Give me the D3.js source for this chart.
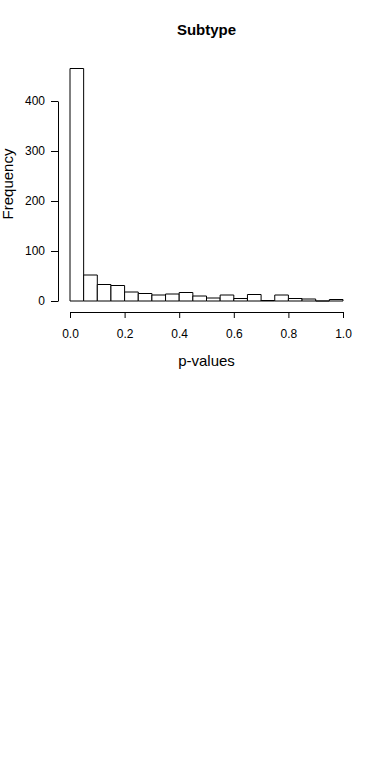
<!DOCTYPE html>
<html>
<head>
<meta charset="utf-8">
<script src="https://cdn.jsdelivr.net/npm/d3@7"></script>
<style>
  html, body { margin: 0; padding: 0; background: #fff; }
  svg { display: block; font-family: "Liberation Sans", Arial, Helvetica, sans-serif; }
</style>
</head>
<body>
<svg id="chart" width="384" height="768"></svg>
<script>
// histogram of p-values, 20 bins of width 0.05
const binStarts = [0.00, 0.05, 0.10, 0.15, 0.20, 0.25, 0.30, 0.35, 0.40, 0.45,
                   0.50, 0.55, 0.60, 0.65, 0.70, 0.75, 0.80, 0.85, 0.90, 0.95];
const binEnds   = [0.05, 0.10, 0.15, 0.20, 0.25, 0.30, 0.35, 0.40, 0.45, 0.50,
                   0.55, 0.60, 0.65, 0.70, 0.75, 0.80, 0.85, 0.90, 0.95, 1.00];
const counts    = [465, 52, 33, 31, 18, 15, 12, 14, 17, 10,
                   6, 12, 5, 13, 1, 12, 5, 4, 0, 3];

const xTicks = [0, 0.2, 0.4, 0.6, 0.8, 1.0];
const yTicks = [0, 100, 200, 300, 400];

const TITLE = 'Subtype';
const X_LABEL = 'p-values';
const Y_LABEL = 'Frequency';

const svg = d3.select('#chart');

const x = d3.scaleLinear().domain([0, 1]).range([70, 343]);
const y = d3.scaleLinear().domain([0, 400]).range([301, 101]);

// bars as closed paths so empty bins still show a line on the baseline
svg.append('g')
  .selectAll('path')
  .data(counts)
  .enter()
  .append('path')
    .attr('d', (d, i) => {
      const x0 = x(binStarts[i]), x1 = x(binEnds[i]);
      const p = d3.path();
      p.moveTo(x0, y(0));
      p.lineTo(x0, y(d));
      p.lineTo(x1, y(d));
      p.lineTo(x1, y(0));
      p.closePath();
      return p.toString();
    })
    .attr('fill', '#fff')
    .attr('stroke', '#000')
    .attr('stroke-width', 1);

// y axis
const yAxis = svg.append('g')
  .attr('transform', 'translate(58,0)')
  .call(d3.axisLeft(y).tickValues(yTicks).tickSize(7).tickSizeOuter(0).tickPadding(6)
    .tickFormat(d3.format('d')));

// x axis
const xAxis = svg.append('g')
  .attr('transform', 'translate(0,312)')
  .call(d3.axisBottom(x).tickValues(xTicks).tickSize(6).tickSizeOuter(0).tickPadding(11)
    .tickFormat(d3.format('.1f')));

[yAxis, xAxis].forEach(a => {
  a.selectAll('text').attr('font-size', 12).attr('fill', '#000')
    .attr('font-family', '"Liberation Sans", Arial, Helvetica, sans-serif');
  a.selectAll('line, path').attr('stroke', '#000');
});

// titles
svg.append('text')
  .attr('x', 206.5).attr('y', 35)
  .attr('text-anchor', 'middle')
  .attr('font-size', 15).attr('font-weight', 'bold')
  .text(TITLE);

svg.append('text')
  .attr('x', 206.5).attr('y', 366)
  .attr('text-anchor', 'middle')
  .attr('font-size', 15)
  .text(X_LABEL);

// R centres ylab on the plot region, which reaches above the top tick
svg.append('text')
  .attr('transform', 'translate(13,184) rotate(-90)')
  .attr('text-anchor', 'middle')
  .attr('font-size', 15)
  .text(Y_LABEL);
</script>
</body>
</html>
